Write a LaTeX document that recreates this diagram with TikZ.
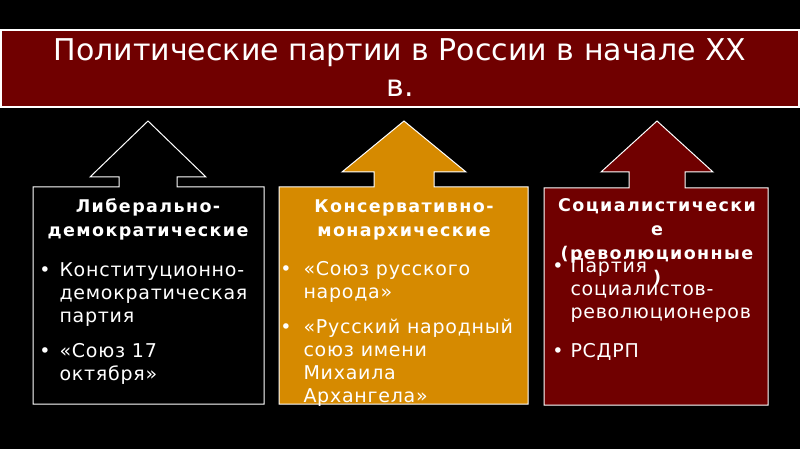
\documentclass[tikz,border=0pt]{standalone}
\usepackage{fontspec}
\setmainfont{DejaVu Sans}

\definecolor{darkmaroon}{RGB}{112,0,0}
\definecolor{amber}{RGB}{214,138,0}

\newcommand*{\titlefont}{\fontsize{30}{36}\selectfont}
\newcommand*{\headfont}{\fontsize{17.5}{24}\selectfont\bfseries\addfontfeature{LetterSpace=8}}
\newcommand*{\itemfont}{\fontsize{19}{23}\selectfont\addfontfeature{LetterSpace=4}}

% #1 fill, #2 left, #3 right, #4 top, #5 bottom, #6 tip x, #7 head base y, #8 head half width, #9 shaft half width
\newcommand*{\arrowbox}[9]{%
	\draw[white, fill=#1] (#2,#4) -- ({#6-#9},#4) -- ({#6-#9},#7) -- ({#6-#8},#7) -- (#6,121)
		-- ({#6+#8},#7) -- ({#6+#9},#7) -- ({#6+#9},#4) -- (#3,#4) -- (#3,#5) -- (#2,#5) -- cycle;}

\begin{document}
\begin{tikzpicture}
[
	x=1pt,
	y=-1pt,
	line width=1pt,
	heading/.style={text=white,font=\headfont,align=center,anchor=base,inner sep=0pt},
	entry/.style={text=white,font=\itemfont,align=left,anchor=base west,inner sep=0pt},
	bullet/.style={text=white,font=\itemfont,anchor=base,inner sep=0pt}
]

	% background and title banner
	\fill[black] (0,0) rectangle (800,449);
	\useasboundingbox (0,0) rectangle (800,449);
	\draw[white, fill=darkmaroon, line width=1.5pt] (1,30) rectangle (799,107);
	\node[text=white,font=\titlefont,anchor=base,inner sep=0pt] (ttlA) at (400,61) {Политические партии в России в начале XX};
	\node[text=white,font=\titlefont,anchor=base,inner sep=0pt] (ttlB) at (400,97) {в.};

	% the three boxes
	\arrowbox{black}{33}{264}{187}{404}{148}{177}{58}{29}
	\arrowbox{amber}{279}{528}{187}{404}{404}{172}{62}{30}
	\arrowbox{darkmaroon}{544}{768}{188}{405}{657}{172}{56}{28}

	% liberal (multi-line nodes sit on their last baseline)
	\node[heading] (libhead) at (148,236) {Либерально-\\демократические};
	\node[bullet] (libdotA) at (45,276) {•};
	\node[entry] (libA) at (59,322) {Конституционно-\\демократическая\\партия};
	\node[bullet] (libdotB) at (45,357) {•};
	\node[entry] (libB) at (59,380) {«Союз 17\\октября»};

	% conservative
	\node[heading] (conhead) at (404,236) {Консервативно-\\монархические};
	\node[bullet] (condotA) at (286,275) {•};
	\node[entry] (conA) at (303,298) {«Союз русского\\народа»};
	\node[bullet] (condotB) at (286,333) {•};
	\node[entry] (conB) at (303,402) {«Русский народный\\союз имени\\Михаила\\Архангела»};

	% socialist
	\node[heading] (sochead) at (657,283) {Социалистически\\е\\(революционные\\)};
	\node[bullet] (socdotA) at (558,272) {•};
	\node[entry] (socA) at (570,318) {Партия\\социалистов-\\революционеров};
	\node[bullet] (socdotB) at (558,357) {•};
	\node[entry] (socB) at (570,357) {РСДРП};

\end{tikzpicture}
\end{document}
